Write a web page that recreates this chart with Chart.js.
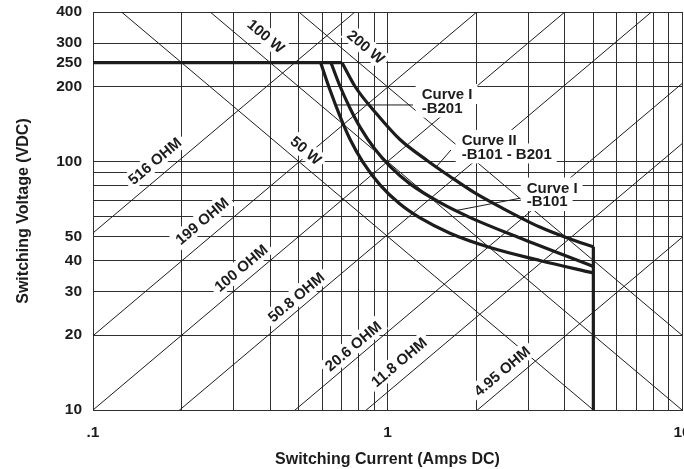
<!DOCTYPE html>
<html>
<head>
<meta charset="utf-8">
<title>Switching Voltage vs Switching Current</title>
<script src="https://cdn.jsdelivr.net/npm/chart.js@4.4.1/dist/chart.umd.min.js"></script>
<style>
    html, body { margin: 0; padding: 0; background: #fff; }
    #wrap { width: 684px; height: 469px; }
</style>
</head>
<body>
<div id="wrap"><canvas id="relayChart" width="684" height="469"></canvas></div>
<script>
// axis ticks
const xTicks = [0.1, 0.2, 0.3, 0.4, 0.5, 0.6, 0.7, 0.8, 0.9, 1, 2, 3, 4, 5, 6, 7, 8, 9, 10];
const xTickText = { 0.1: '.1', 1: '1', 10: '10' };
const yTicks = [10, 20, 30, 40, 50, 60, 70, 80, 90, 100, 200, 250, 300, 400];
const yTickShown = [10, 20, 30, 40, 50, 100, 200, 250, 300, 400];

// constant power (W) and constant resistance (OHM) lines
const powerLines = [50, 100, 200];
const resistanceLines = [516, 199, 100, 50.8, 20.6, 11.8, 4.95];

// limits
const maxVolts = 250;
const maxAmps = 5;

// Curve I - B201
const b201Amps = [0.593, 0.638, 0.690, 0.746, 0.826, 0.943, 1.10, 1.29, 1.63, 2.23, 3.29, 5.0];
const b201Volts = [250, 194, 152, 123, 99.3, 80.6, 67.6, 59.3, 51.5, 45.1, 40.0, 35.6];

// Curve I - B101
const b101Amps = [0.643, 0.690, 0.746, 0.806, 0.907, 1.02, 1.19, 1.51, 1.91, 2.82, 5.0];
const b101Volts = [250, 201, 164, 138, 112, 95.7, 81.5, 68.3, 59.5, 49.2, 37.8];

// Curve II - B101 - B201
const curve2Amps = [0.701, 0.775, 0.921, 1.10, 1.37, 1.63, 1.98, 2.41, 3.29, 4.17, 5.0];
const curve2Volts = [250, 201, 155, 123, 100.6, 87.1, 74.8, 65.7, 54.5, 48.8, 45.4];

document.addEventListener('DOMContentLoaded', function() {
    const ink = '#1c1c1c';
    const gridInk = '#2e2e2e';
    const labelFont = 'bold 15px "Liberation Sans", Arial, sans-serif';

    const toPoints = (xs, ys) => xs.map((x, i) => ({ x: x, y: ys[i] }));

    // text along the diagonal lines, anchored in data units
    const lineLabels = [
        { text: '100 W', x: 0.387, y: 320, kind: 'P' },
        { text: '200 W', x: 0.845, y: 290, kind: 'P' },
        { text: '50 W', x: 0.529, y: 111, kind: 'P' },
        { text: '516 OHM', x: 0.162, y: 100.6, kind: 'R' },
        { text: '199 OHM', x: 0.2345, y: 57.7, kind: 'R' },
        { text: '100 OHM', x: 0.318, y: 37.3, kind: 'R' },
        { text: '50.8 OHM', x: 0.489, y: 28.5, kind: 'R' },
        { text: '20.6 OHM', x: 0.764, y: 18.1, kind: 'R' },
        { text: '11.8 OHM', x: 1.094, y: 15.6, kind: 'R' },
        { text: '4.95 OHM', x: 2.447, y: 14.35, kind: 'R' }
    ];

    // curve names, left edge / first line centre in data units
    const curveLabels = [
        { lines: ['Curve I', '-B201'], x: 1.306, y: 187 },
        { lines: ['Curve II', '-B101 - B201'], x: 1.786, y: 122.2 },
        { lines: ['Curve I', '-B101'], x: 2.97, y: 78.6 }
    ];

    const leaderB201 = toPoints([0.672, 1.22], [169, 169]);
    const leaderB101 = toPoints([2.82, 1.718], [71.2, 63.6]);
    const leaderCurve2 = toPoints([1.643, 1.473], [111.4, 96]);

    const thick = (data, smooth) => ({
        data: data,
        borderColor: ink,
        borderWidth: 3.2,
        pointRadius: 0,
        fill: false,
        cubicInterpolationMode: smooth ? 'monotone' : 'default',
        tension: 0
    });
    const thin = (data) => ({
        data: data,
        borderColor: ink,
        borderWidth: 1,
        pointRadius: 0,
        fill: false,
        tension: 0
    });

    // datasets with lower index are painted on top
    const datasets = [
        thick(toPoints([0.1, curve2Amps[0]], [maxVolts, maxVolts]), false),
        thick(toPoints(b201Amps, b201Volts), true),
        thick(toPoints(b101Amps, b101Volts), true),
        thick(toPoints(curve2Amps, curve2Volts), true),
        thick(toPoints([maxAmps, maxAmps], [curve2Volts[curve2Volts.length - 1], 10]), false),
        thin(leaderB201),
        thin(leaderB101),
        thin(leaderCurve2)
    ];
    const firstThin = datasets.length;
    powerLines.forEach(function(p) {
        datasets.push(thin(toPoints([0.1, 10], [p / 0.1, p / 10])));
    });
    resistanceLines.forEach(function(r) {
        datasets.push(thin(toPoints([0.1, 10], [r * 0.1, r * 10])));
    });

    // white-backed labels, drawn over the thin lines but under the curves
    const labelPlugin = {
        id: 'lineLabels',
        afterDatasetDraw(chart, args) {
            if (args.index !== firstThin) return;
            const c = chart.ctx;
            const xs = chart.scales.x;
            const ys = chart.scales.y;
            const slope = Math.atan2(
                ys.getPixelForValue(10) - ys.getPixelForValue(100),
                xs.getPixelForValue(10) - xs.getPixelForValue(1)
            );
            c.save();
            c.font = labelFont;
            c.textBaseline = 'middle';
            lineLabels.forEach(function(l) {
                const w = c.measureText(l.text).width;
                c.save();
                c.translate(xs.getPixelForValue(l.x), ys.getPixelForValue(l.y));
                c.rotate(l.kind === 'P' ? slope : -slope);
                c.fillStyle = '#fff';
                c.fillRect(-w / 2 - 4, -9, w + 8, 18);
                c.fillStyle = ink;
                c.textAlign = 'center';
                c.fillText(l.text, 0, 1);
                c.restore();
            });
            c.textAlign = 'left';
            curveLabels.forEach(function(l) {
                const left = xs.getPixelForValue(l.x);
                const top = ys.getPixelForValue(l.y);
                l.lines.forEach(function(t, i) {
                    const cy = top + i * 13.5;
                    const w = c.measureText(t).width;
                    c.fillStyle = '#fff';
                    c.fillRect(left - 6, cy - 10, w + 11, 20);
                });
                l.lines.forEach(function(t, i) {
                    c.fillStyle = ink;
                    c.fillText(t, left, top + i * 13.5 + 1);
                });
            });
            c.restore();
        }
    };

    const tickFont = { family: '"Liberation Sans", Arial, sans-serif', size: 15.5, weight: 'bold' };
    const titleFont = { family: '"Liberation Sans", Arial, sans-serif', size: 16, weight: 'bold' };

    const ctx = document.getElementById('relayChart').getContext('2d');
    new Chart(ctx, {
        type: 'line',
        data: { datasets: datasets },
        plugins: [labelPlugin],
        options: {
            responsive: false,
            animation: false,
            layout: { padding: { top: 12, right: 2, bottom: 0, left: 0 } },
            plugins: {
                legend: { display: false },
                tooltip: { enabled: false }
            },
            scales: {
                x: {
                    type: 'logarithmic',
                    position: 'bottom',
                    min: 0.1,
                    max: 10,
                    afterBuildTicks: function(scale) {
                        scale.ticks = xTicks.map(v => ({ value: v }));
                    },
                    afterFit: function(scale) {
                        scale.height = 59;
                        scale.paddingLeft = 0;
                        scale.paddingRight = 0;
                    },
                    ticks: {
                        autoSkip: false,
                        maxRotation: 0,
                        padding: 13,
                        color: ink,
                        font: tickFont,
                        callback: function(value) {
                            return xTickText[value] !== undefined ? xTickText[value] : '';
                        }
                    },
                    grid: { color: gridInk, lineWidth: 1, drawTicks: false },
                    border: { display: true, color: gridInk, width: 1 },
                    title: {
                        display: true,
                        text: 'Switching Current (Amps DC)',
                        color: ink,
                        font: titleFont,
                        padding: { top: 0, bottom: 0 }
                    }
                },
                y: {
                    type: 'logarithmic',
                    position: 'left',
                    min: 10,
                    max: 400,
                    afterBuildTicks: function(scale) {
                        scale.ticks = yTicks.map(v => ({ value: v }));
                    },
                    afterFit: function(scale) {
                        scale.width = 93;
                        scale.paddingTop = 0;
                        scale.paddingBottom = 0;
                    },
                    ticks: {
                        autoSkip: false,
                        padding: 11,
                        color: ink,
                        font: tickFont,
                        callback: function(value) {
                            return yTickShown.includes(value) ? String(value) : '';
                        }
                    },
                    grid: { color: gridInk, lineWidth: 1, drawTicks: false },
                    border: { display: true, color: gridInk, width: 1 },
                    title: {
                        display: true,
                        text: 'Switching Voltage (VDC)',
                        color: ink,
                        font: titleFont,
                        padding: { top: 14, bottom: 0 }
                    }
                }
            }
        }
    });
});
</script>
</body>
</html>
